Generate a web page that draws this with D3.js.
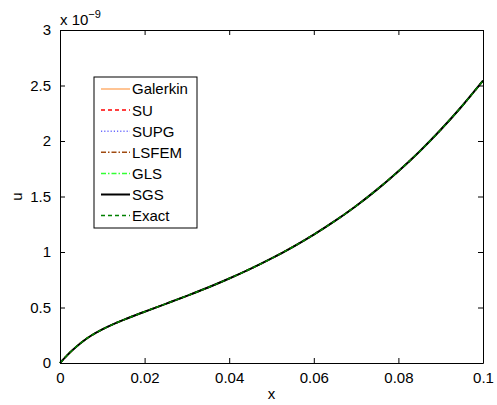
<!DOCTYPE html>
<html>
<head>
<meta charset="utf-8">
<script src="https://cdn.jsdelivr.net/npm/d3@7"></script>
<style>
  html, body { margin: 0; padding: 0; background: #fff; }
  svg { display: block; font-family: "Liberation Sans", Arial, Helvetica, sans-serif; }
</style>
</head>
<body>
<svg id="chart" width="497" height="405"></svg>
<script>
// Grid points along x
const xValues = [0, 0.0025, 0.005, 0.0075, 0.01, 0.0125, 0.015, 0.0175, 0.02, 0.025, 0.03, 0.035,
                 0.04, 0.045, 0.05, 0.055, 0.06, 0.065, 0.07, 0.075, 0.08, 0.085, 0.09, 0.095, 0.1];
// Solution u (in units of 1e-9) for each method
const uGalerkin = [0, 0.10, 0.183, 0.25, 0.303, 0.348, 0.388, 0.426, 0.462, 0.533, 0.605, 0.680,
                   0.761, 0.848, 0.942, 1.045, 1.157, 1.280, 1.415, 1.564, 1.728, 1.906, 2.101, 2.313, 2.543];
const uSU     = [0, 0.10, 0.183, 0.25, 0.303, 0.348, 0.388, 0.426, 0.462, 0.533, 0.605, 0.680,
                 0.761, 0.848, 0.942, 1.045, 1.157, 1.280, 1.415, 1.564, 1.728, 1.906, 2.101, 2.313, 2.543];
const uSUPG   = [0, 0.10, 0.183, 0.25, 0.303, 0.348, 0.388, 0.426, 0.462, 0.533, 0.605, 0.680,
                 0.761, 0.848, 0.942, 1.045, 1.157, 1.280, 1.415, 1.564, 1.728, 1.906, 2.101, 2.313, 2.543];
const uLSFEM  = [0, 0.10, 0.183, 0.25, 0.303, 0.348, 0.388, 0.426, 0.462, 0.533, 0.605, 0.680,
                 0.761, 0.848, 0.942, 1.045, 1.157, 1.280, 1.415, 1.564, 1.728, 1.906, 2.101, 2.313, 2.543];
const uGLS    = [0, 0.10, 0.183, 0.25, 0.303, 0.348, 0.388, 0.426, 0.462, 0.533, 0.605, 0.680,
                 0.761, 0.848, 0.942, 1.045, 1.157, 1.280, 1.415, 1.564, 1.728, 1.906, 2.101, 2.313, 2.543];
const uSGS    = [0, 0.10, 0.183, 0.25, 0.303, 0.348, 0.388, 0.426, 0.462, 0.533, 0.605, 0.680,
                 0.761, 0.848, 0.942, 1.045, 1.157, 1.280, 1.415, 1.564, 1.728, 1.906, 2.101, 2.313, 2.543];
const uExact  = [0, 0.10, 0.183, 0.25, 0.303, 0.348, 0.388, 0.426, 0.462, 0.533, 0.605, 0.680,
                 0.761, 0.848, 0.942, 1.045, 1.157, 1.280, 1.415, 1.564, 1.728, 1.906, 2.101, 2.313, 2.543];

const seriesNames = ["Galerkin", "SU", "SUPG", "LSFEM", "GLS", "SGS", "Exact"];
const seriesValues = [uGalerkin, uSU, uSUPG, uLSFEM, uGLS, uSGS, uExact];
const seriesColors = ["#ffb070", "#ff0000", "#6a6aff", "#a04a10", "#33ff33", "#000000", "#008000"];
const seriesDash = [null, "4,3", "1.2,2", "5,2,1.5,2", "5,2,1.5,2", null, "4,3"];
const seriesWidth = [1.5, 1.5, 1.5, 1.5, 1.5, 2, 1.5];

const xTicks = [0, 0.02, 0.04, 0.06, 0.08, 0.1];
const xTickLabels = ["0", "0.02", "0.04", "0.06", "0.08", "0.1"];
const yTicks = [0, 0.5, 1, 1.5, 2, 2.5, 3];
const yTickLabels = ["0", "0.5", "1", "1.5", "2", "2.5", "3"];

const svg = d3.select("#chart");
const plotLeft = 60, plotRight = 483, plotTop = 30, plotBottom = 363;

const x = d3.scaleLinear().domain([0, 0.1]).range([plotLeft, plotRight]);
const y = d3.scaleLinear().domain([0, 3]).range([plotBottom, plotTop]);

const fontSize = 15;

// Curves
const line = d3.line().x(d => x(d[0])).y(d => y(d[1])).curve(d3.curveMonotoneX);
const plot = svg.append("g");
seriesNames.forEach((name, i) => {
  const pts = xValues.map((xv, j) => [xv, seriesValues[i][j]]);
  plot.append("path")
    .datum(pts)
    .attr("d", line)
    .attr("fill", "none")
    .attr("stroke", seriesColors[i])
    .attr("stroke-width", seriesWidth[i])
    .attr("stroke-dasharray", seriesDash[i]);
});

// Axes box with inward ticks on all sides
const axisColor = "#000";
const bottomAxis = d3.axisBottom(x).tickValues(xTicks).tickFormat((d, i) => xTickLabels[i])
  .tickSizeInner(-5).tickSizeOuter(0).tickPadding(9);
const topAxis = d3.axisTop(x).tickValues(xTicks).tickFormat("").tickSizeInner(-5).tickSizeOuter(0);
const leftAxis = d3.axisLeft(y).tickValues(yTicks).tickFormat((d, i) => yTickLabels[i])
  .tickSizeInner(-5).tickSizeOuter(0).tickPadding(9);
const rightAxis = d3.axisRight(y).tickValues(yTicks).tickFormat("").tickSizeInner(-5).tickSizeOuter(0);

function styleAxis(g) {
  g.selectAll("path").attr("stroke", axisColor).attr("stroke-width", 1);
  g.selectAll("line").attr("stroke", axisColor).attr("stroke-width", 1);
  g.selectAll("text").attr("fill", "#000").style("font-size", fontSize + "px")
    .style("font-family", "'Liberation Sans', Arial, sans-serif");
}

svg.append("g").attr("transform", `translate(0,${plotBottom})`).call(bottomAxis).call(styleAxis);
svg.append("g").attr("transform", `translate(0,${plotTop})`).call(topAxis).call(styleAxis);
svg.append("g").attr("transform", `translate(${plotLeft},0)`).call(leftAxis).call(styleAxis);
svg.append("g").attr("transform", `translate(${plotRight},0)`).call(rightAxis).call(styleAxis);

// Axis labels
svg.append("text").attr("x", (plotLeft + plotRight) / 2).attr("y", 399).attr("text-anchor", "middle")
  .style("font-size", fontSize + "px").text("x");
svg.append("text").attr("transform", `translate(22,${(plotTop + plotBottom) / 2}) rotate(-90)`)
  .attr("text-anchor", "middle").style("font-size", fontSize + "px").text("u");

// Exponent annotation
const expo = svg.append("text").attr("x", 60).attr("y", 25).style("font-size", fontSize + "px");
expo.append("tspan").text("x 10");
expo.append("tspan").attr("dy", -7).style("font-size", "11px").text("\u22129");

// Legend
const legX = 94, legY = 77, legW = 103, legH = 151;
const legend = svg.append("g");
legend.append("rect").attr("x", legX).attr("y", legY).attr("width", legW).attr("height", legH)
  .attr("fill", "#fff").attr("stroke", "#000").attr("stroke-width", 1);
seriesNames.forEach((name, i) => {
  const cy = 89 + i * 21.1;
  legend.append("line").attr("x1", 101).attr("x2", 130).attr("y1", cy).attr("y2", cy)
    .attr("stroke", seriesColors[i]).attr("stroke-width", seriesWidth[i])
    .attr("stroke-dasharray", seriesDash[i]);
  legend.append("text").attr("x", 132).attr("y", cy).attr("dy", "0.36em")
    .style("font-size", fontSize + "px").text(name);
});
</script>
</body>
</html>
